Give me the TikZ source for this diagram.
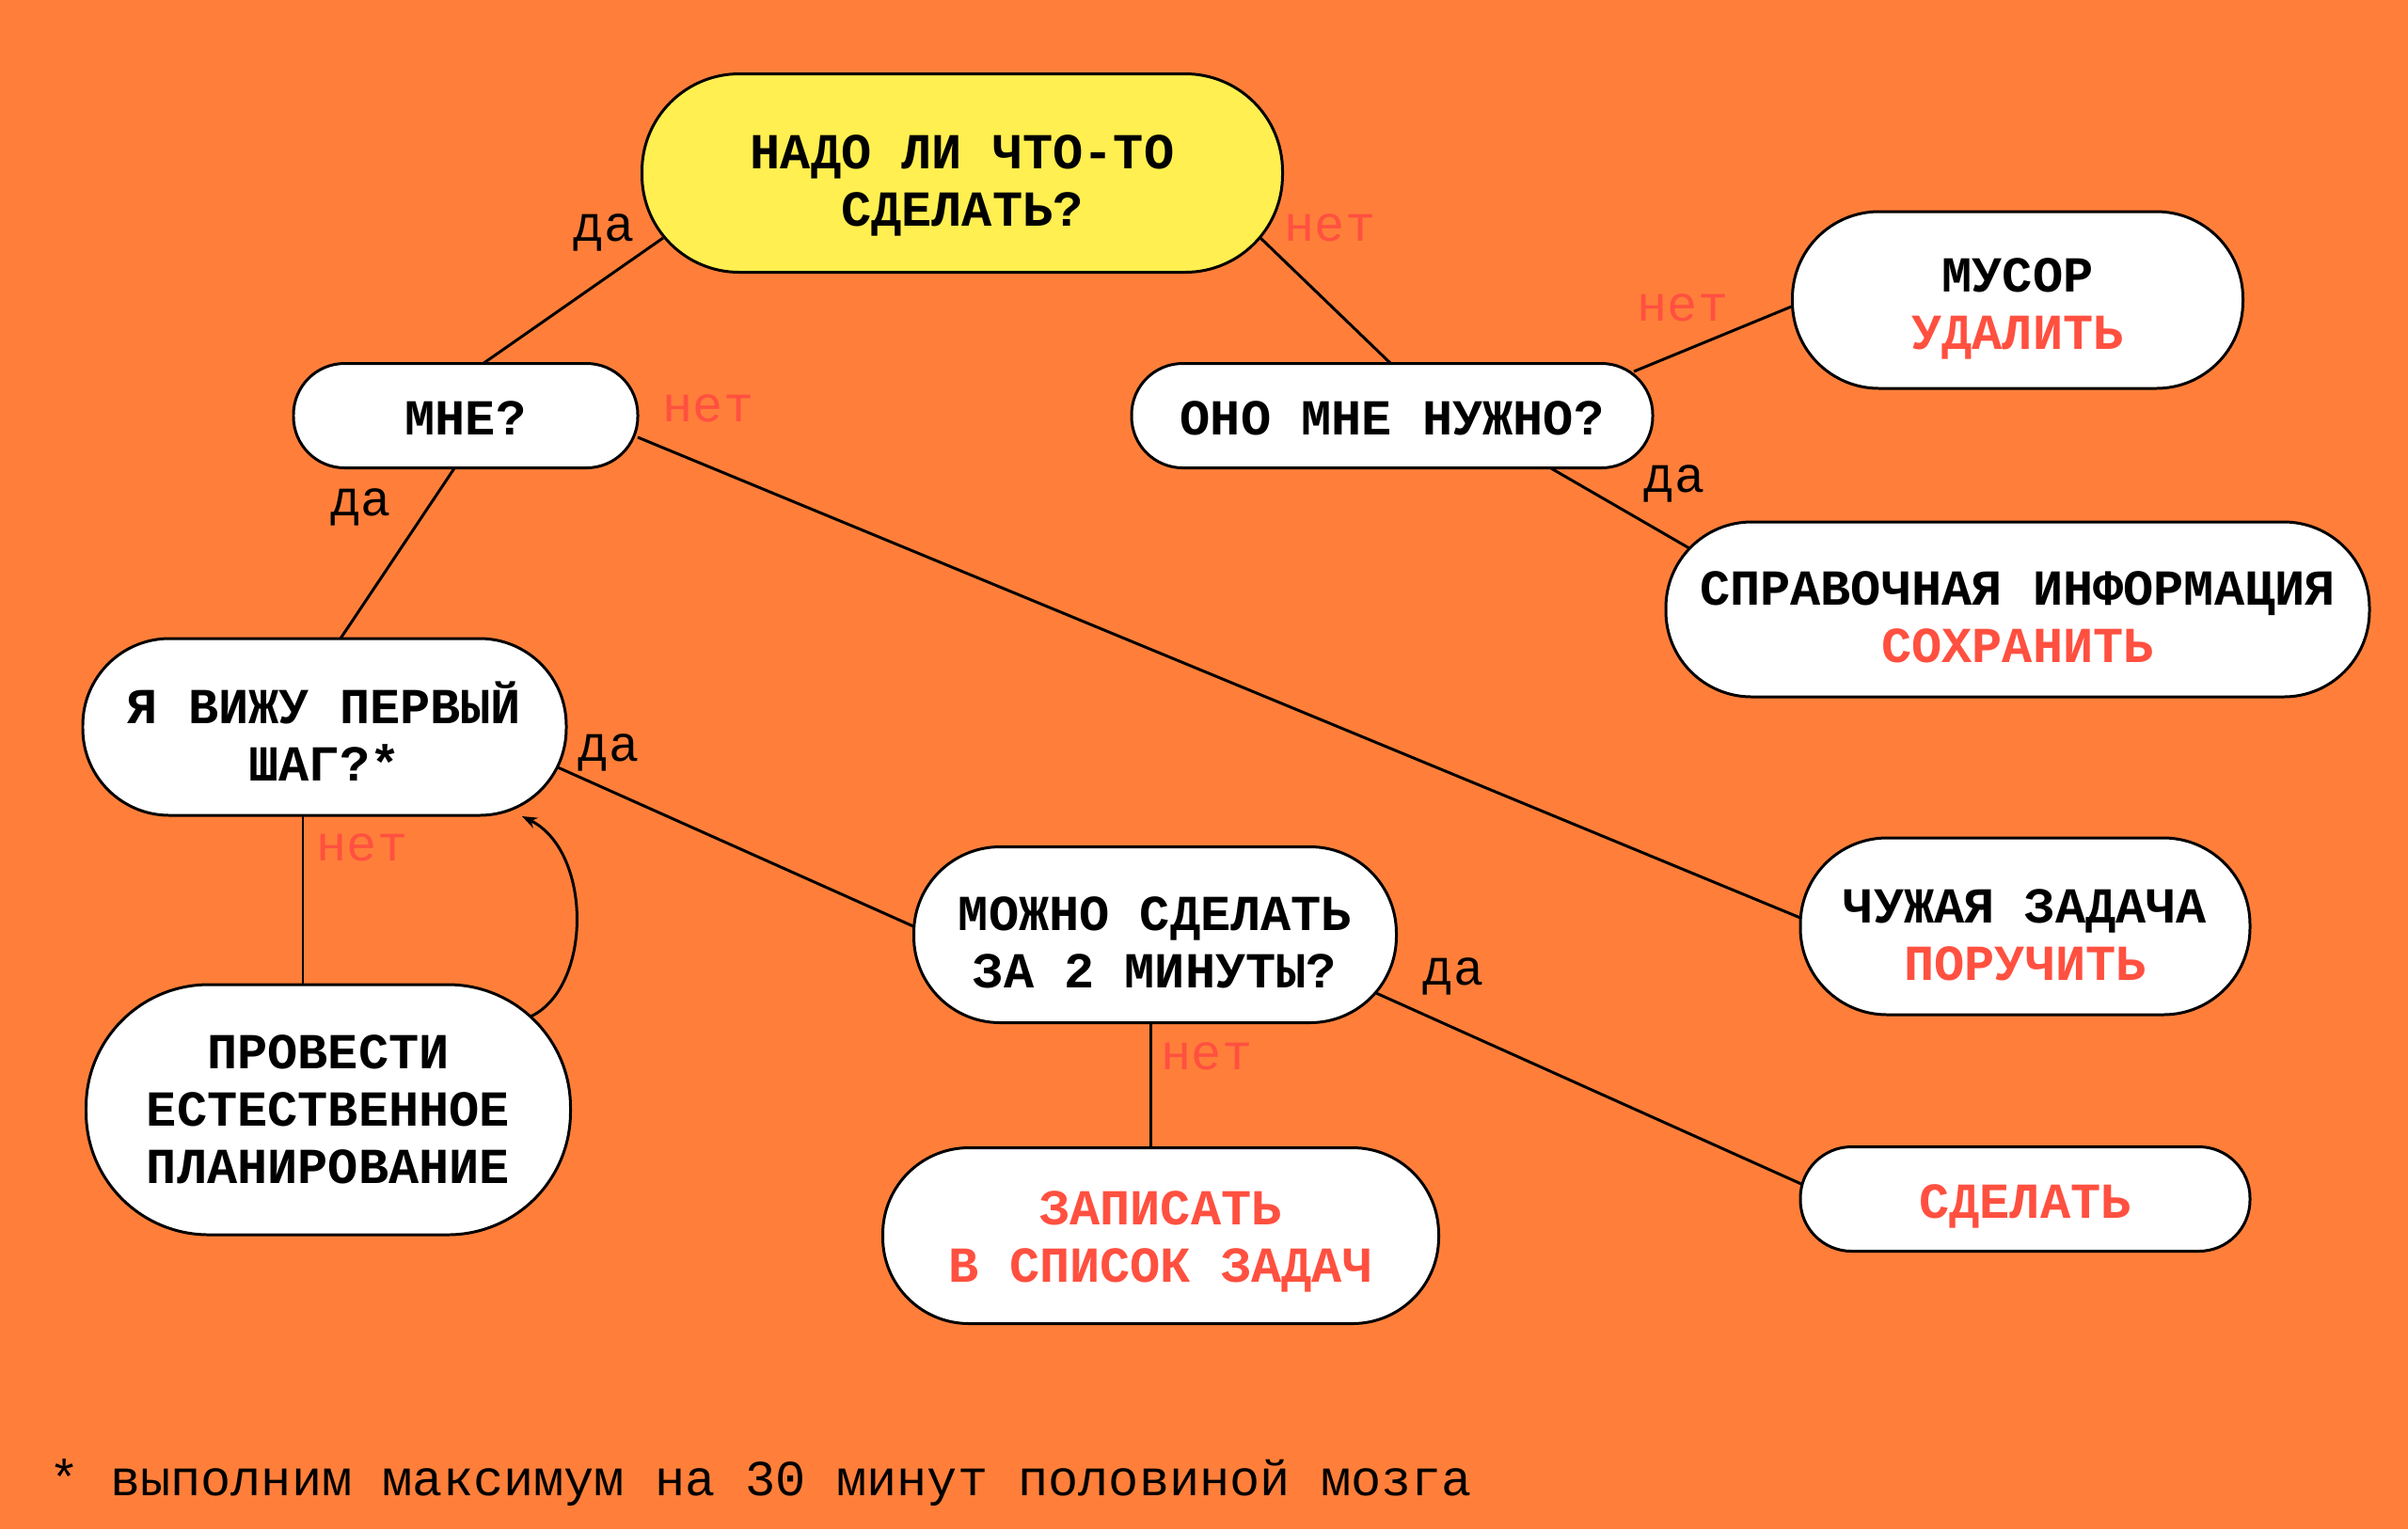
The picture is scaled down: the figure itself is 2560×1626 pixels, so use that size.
\documentclass[tikz,border=0pt]{standalone}
\usepackage{fontspec}
\setmainfont{Liberation Mono}
\usetikzlibrary{arrows.meta}
\definecolor{bgor}{HTML}{FF7F3A}
\definecolor{yel}{HTML}{FFEF50}
\definecolor{rd}{HTML}{FF5040}
\pgfdeclarelayer{bglayer}
\pgfdeclarelayer{edgelayer}
\pgfsetlayers{bglayer,edgelayer,main}
\begin{document}
\begin{tikzpicture}[x=0.01cm,y=-0.01cm,
  pill/.style n args={4}{draw=black, line width=0.85pt, fill=white, inner sep=0pt, align=center,
    font=\fontsize{15.25}{17.3}\selectfont\bfseries,
    minimum width=#1*0.01cm, minimum height=#2*0.01cm, rounded corners=#2*0.0049cm,
    execute at begin node={\rule{0pt}{\dimexpr16.04pt+0.569pt*#3+17.3pt*#4\relax}},
    execute at end node={\rule[-6pt]{0pt}{6pt}}},
  conn/.style={draw=black, line width=0.85pt},
  yes/.style={anchor=base, font=\fontsize{15.25}{17.3}\selectfont, text=black, inner sep=0pt},
  no/.style={yes, text=rd}
]
\useasboundingbox (0,0) rectangle (2560,1626);
\begin{pgfonlayer}{bglayer}
\fill[bgor] (0,0) rectangle (2560,1626);
\end{pgfonlayer}

\node[pill={681}{211}{8}{1}, fill=yel] (q1) at (1023,184) {НАДО ЛИ ЧТО-ТО\\СДЕЛАТЬ?};
\node[pill={366}{111}{3}{0}] (me) at (495,442) {МНЕ?};
\node[pill={554}{111}{3}{0}] (need) at (1480,442) {ОНО МНЕ НУЖНО?};
\node[pill={479}{188}{4}{1}] (trash) at (2145,319) {МУСОР\\\textcolor{rd}{УДАЛИТЬ}};
\node[pill={748}{186}{8}{1}] (ref) at (2145,648) {СПРАВОЧНАЯ ИНФОРМАЦИЯ\\\textcolor{rd}{СОХРАНИТЬ}};
\node[pill={514}{188}{9}{1}] (first) at (345,773) {Я ВИЖУ ПЕРВЫЙ\\ШАГ?*};
\node[pill={515}{266}{0}{2}] (plan) at (349,1180) {ПРОВЕСТИ\\ЕСТЕСТВЕННОЕ\\ПЛАНИРОВАНИЕ};
\node[pill={513}{187}{8}{1}] (two) at (1228,994) {МОЖНО СДЕЛАТЬ\\ЗА 2 МИНУТЫ?};
\node[pill={591}{187}{1}{1}] (list) at (1234,1314) {\textcolor{rd}{ЗАПИСАТЬ}\\\textcolor{rd}{В СПИСОК ЗАДАЧ}};
\node[pill={478}{188}{9}{1}] (deleg) at (2153,985) {ЧУЖАЯ ЗАДАЧА\\\textcolor{rd}{ПОРУЧИТЬ}};
\node[pill={478}{111}{3}{0}] (do) at (2153,1275) {\textcolor{rd}{СДЕЛАТЬ}};

\begin{pgfonlayer}{edgelayer}
\draw[conn] ([shift={(-318,69)}]q1.center) -- ([shift={(18,-55)}]me.center);
\draw[conn] ([shift={(317,69)}]q1.center) -- ([shift={(-1,-55)}]need.center);
\draw[conn] ([shift={(257,-47)}]need.center) -- ([shift={(-238,6)}]trash.center);
\draw[conn] ([shift={(169,56)}]need.center) -- ([shift={(-349,-65)}]ref.center);
\draw[conn] ([shift={(-12,56)}]me.center) -- ([shift={(17,-94)}]first.center);
\draw[conn] ([shift={(183,23)}]me.center) -- ([shift={(-239,-9)}]deleg.center);
\draw[conn] ([shift={(248,43)}]first.center) -- ([shift={(-257,-9)}]two.center);
\draw[conn] ([shift={(-23,94)}]first.center) -- ([shift={(-27,-133)}]plan.center);
\draw[conn] ([shift={(-5,93)}]two.center) -- ([shift={(-11,-94)}]list.center);
\draw[conn] ([shift={(235,62)}]two.center) -- ([shift={(-238,-16)}]do.center);
\end{pgfonlayer}
\draw[conn, -{Stealth[length=0.16cm, width=0.12cm]}] ([shift={(215,-99)}]plan.center)
  .. controls (630,1050) and (630,905) .. ([shift={(210,95)}]first.center);

\node[yes] (l1) at (642,256) {да};
\node[no] (l2) at (1414,256) {нет};
\node[no] (l3) at (1789,341) {нет};
\node[yes] (l4) at (1780,523) {да};
\node[yes] (l5) at (384,548) {да};
\node[no] (l6) at (753,448) {нет};
\node[yes] (l7) at (647,809) {да};
\node[no] (l8) at (385,915) {нет};
\node[no] (l9) at (1283,1137) {нет};
\node[yes] (l10) at (1545,1047) {да};

\node[anchor=base west, inner sep=0pt, font=\fontsize{15.25}{17.3}\selectfont] (fn) at (52,1590)
  {* выполним максимум на 30 минут половиной мозга};
\end{tikzpicture}
\end{document}
